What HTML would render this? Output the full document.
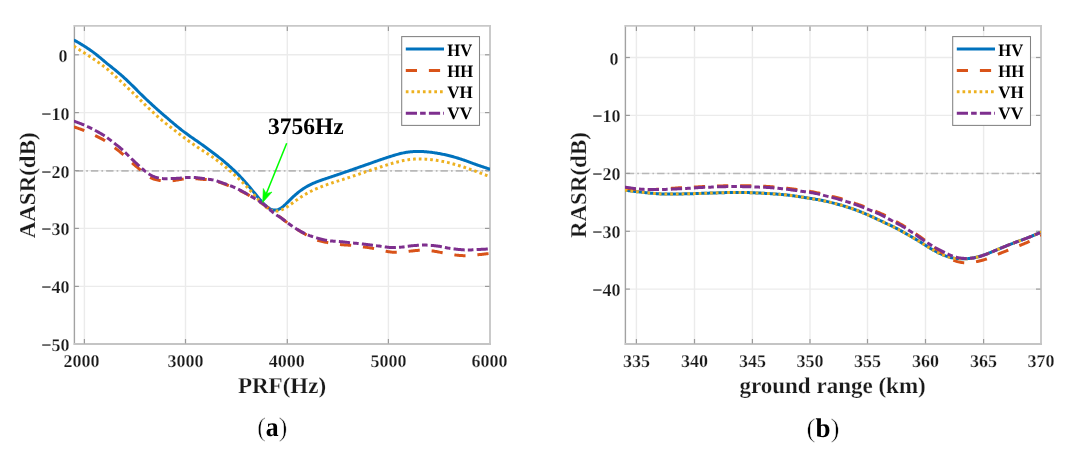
<!DOCTYPE html>
<html><head><meta charset="utf-8"><style>
html,body{margin:0;padding:0;background:#fff;}
body{width:1074px;height:455px;overflow:hidden;}
svg{display:block;will-change:transform;}
text{text-rendering:geometricPrecision;}
</style></head><body>
<svg width="1074" height="455" viewBox="0 0 1074 455">
<rect width="1074" height="455" fill="#fff"/>
<clipPath id="ca"><rect x="73.9" y="25.9" width="416.20000000000005" height="318.1"/></clipPath>
<line x1="84.4" y1="25.9" x2="84.4" y2="344.0" stroke="#ebebeb" stroke-width="1.4"/>
<line x1="185.5" y1="25.9" x2="185.5" y2="344.0" stroke="#ebebeb" stroke-width="1.4"/>
<line x1="287.3" y1="25.9" x2="287.3" y2="344.0" stroke="#ebebeb" stroke-width="1.4"/>
<line x1="388.4" y1="25.9" x2="388.4" y2="344.0" stroke="#ebebeb" stroke-width="1.4"/>
<line x1="74.4" y1="54.8" x2="490.0" y2="54.8" stroke="#ebebeb" stroke-width="1.4"/>
<line x1="74.4" y1="112.6" x2="490.0" y2="112.6" stroke="#ebebeb" stroke-width="1.4"/>
<line x1="74.4" y1="170.6" x2="490.0" y2="170.6" stroke="#ebebeb" stroke-width="1.4"/>
<line x1="74.4" y1="228.4" x2="490.0" y2="228.4" stroke="#ebebeb" stroke-width="1.4"/>
<line x1="74.4" y1="286.4" x2="490.0" y2="286.4" stroke="#ebebeb" stroke-width="1.4"/>
<line x1="75.7" y1="170.9" x2="490.0" y2="170.9" stroke="#b8b8b8" stroke-width="1.6" stroke-dasharray="7.4 3.1 1.7 3.0"/>
<line x1="74.4" y1="24.9" x2="74.4" y2="345.0" stroke="#a2a2a2" stroke-width="1.4"/>
<line x1="73.7" y1="25.9" x2="491.0" y2="25.9" stroke="#c8c8c8" stroke-width="1.9"/>
<line x1="490.0" y1="25.9" x2="490.0" y2="345.0" stroke="#c8c8c8" stroke-width="1.9"/>
<line x1="73.7" y1="344.0" x2="491.0" y2="344.0" stroke="#c4c4c4" stroke-width="1.9"/>
<line x1="84.4" y1="343.5" x2="84.4" y2="339.0" stroke="#9a9a9a" stroke-width="1.2"/>
<line x1="84.4" y1="26.4" x2="84.4" y2="30.9" stroke="#9a9a9a" stroke-width="1.2"/>
<line x1="185.5" y1="343.5" x2="185.5" y2="339.0" stroke="#9a9a9a" stroke-width="1.2"/>
<line x1="185.5" y1="26.4" x2="185.5" y2="30.9" stroke="#9a9a9a" stroke-width="1.2"/>
<line x1="287.3" y1="343.5" x2="287.3" y2="339.0" stroke="#9a9a9a" stroke-width="1.2"/>
<line x1="287.3" y1="26.4" x2="287.3" y2="30.9" stroke="#9a9a9a" stroke-width="1.2"/>
<line x1="388.4" y1="343.5" x2="388.4" y2="339.0" stroke="#9a9a9a" stroke-width="1.2"/>
<line x1="388.4" y1="26.4" x2="388.4" y2="30.9" stroke="#9a9a9a" stroke-width="1.2"/>
<line x1="74.4" y1="54.8" x2="78.9" y2="54.8" stroke="#9a9a9a" stroke-width="1.2"/>
<line x1="489.5" y1="54.8" x2="485.0" y2="54.8" stroke="#9a9a9a" stroke-width="1.2"/>
<line x1="74.4" y1="112.6" x2="78.9" y2="112.6" stroke="#9a9a9a" stroke-width="1.2"/>
<line x1="489.5" y1="112.6" x2="485.0" y2="112.6" stroke="#9a9a9a" stroke-width="1.2"/>
<line x1="74.4" y1="170.6" x2="78.9" y2="170.6" stroke="#9a9a9a" stroke-width="1.2"/>
<line x1="489.5" y1="170.6" x2="485.0" y2="170.6" stroke="#9a9a9a" stroke-width="1.2"/>
<line x1="74.4" y1="228.4" x2="78.9" y2="228.4" stroke="#9a9a9a" stroke-width="1.2"/>
<line x1="489.5" y1="228.4" x2="485.0" y2="228.4" stroke="#9a9a9a" stroke-width="1.2"/>
<line x1="74.4" y1="286.4" x2="78.9" y2="286.4" stroke="#9a9a9a" stroke-width="1.2"/>
<line x1="489.5" y1="286.4" x2="485.0" y2="286.4" stroke="#9a9a9a" stroke-width="1.2"/>
<path d="M73.80,39.95 L74.80,40.52 L75.80,41.09 L76.80,41.66 L77.80,42.23 L78.79,42.81 L79.79,43.40 L80.79,43.99 L81.79,44.59 L82.79,45.20 L83.79,45.81 L84.79,46.44 L85.79,47.08 L86.78,47.73 L87.78,48.39 L88.78,49.06 L89.78,49.74 L90.78,50.43 L91.78,51.13 L92.78,51.88 L93.78,52.64 L94.77,53.41 L95.77,54.19 L96.77,54.98 L97.77,55.77 L98.77,56.57 L99.77,57.38 L100.77,58.21 L101.77,59.06 L102.77,59.91 L103.76,60.75 L104.76,61.60 L105.76,62.44 L106.76,63.28 L107.76,64.09 L108.76,64.88 L109.76,65.67 L110.76,66.47 L111.75,67.26 L112.75,68.06 L113.75,68.87 L114.75,69.69 L115.75,70.51 L116.75,71.35 L117.75,72.20 L118.75,73.04 L119.74,73.87 L120.74,74.72 L121.74,75.59 L122.74,76.47 L123.74,77.37 L124.74,78.28 L125.74,79.20 L126.74,80.15 L127.74,81.10 L128.73,82.05 L129.73,83.01 L130.73,83.97 L131.73,84.95 L132.73,85.93 L133.73,86.92 L134.73,87.92 L135.73,88.93 L136.72,89.93 L137.72,90.94 L138.72,91.95 L139.72,92.95 L140.72,93.95 L141.72,94.93 L142.72,95.91 L143.72,96.88 L144.71,97.83 L145.71,98.78 L146.71,99.72 L147.71,100.65 L148.71,101.59 L149.71,102.52 L150.71,103.44 L151.71,104.36 L152.71,105.28 L153.70,106.20 L154.70,107.10 L155.70,108.00 L156.70,108.90 L157.70,109.78 L158.70,110.66 L159.70,111.54 L160.70,112.40 L161.69,113.28 L162.69,114.16 L163.69,115.03 L164.69,115.90 L165.69,116.76 L166.69,117.62 L167.69,118.48 L168.69,119.33 L169.68,120.18 L170.68,121.03 L171.68,121.88 L172.68,122.73 L173.68,123.57 L174.68,124.41 L175.68,125.25 L176.68,126.07 L177.68,126.90 L178.67,127.71 L179.67,128.51 L180.67,129.30 L181.67,130.08 L182.67,130.84 L183.67,131.60 L184.67,132.34 L185.67,133.08 L186.66,133.81 L187.66,134.53 L188.66,135.25 L189.66,135.96 L190.66,136.66 L191.66,137.36 L192.66,138.06 L193.66,138.76 L194.65,139.45 L195.65,140.15 L196.65,140.84 L197.65,141.54 L198.65,142.24 L199.65,142.94 L200.65,143.64 L201.65,144.35 L202.65,145.06 L203.64,145.78 L204.64,146.50 L205.64,147.23 L206.64,147.96 L207.64,148.70 L208.64,149.44 L209.64,150.19 L210.64,150.94 L211.63,151.70 L212.63,152.46 L213.63,153.22 L214.63,153.99 L215.63,154.76 L216.63,155.52 L217.63,156.29 L218.63,157.07 L219.62,157.85 L220.62,158.65 L221.62,159.45 L222.62,160.27 L223.62,161.09 L224.62,161.93 L225.62,162.78 L226.62,163.63 L227.62,164.50 L228.61,165.38 L229.61,166.27 L230.61,167.17 L231.61,168.08 L232.61,169.01 L233.61,169.95 L234.61,170.90 L235.61,171.87 L236.60,172.85 L237.60,173.85 L238.60,174.86 L239.60,175.89 L240.60,176.94 L241.60,178.00 L242.60,179.09 L243.60,180.18 L244.59,181.30 L245.59,182.43 L246.59,183.57 L247.59,184.72 L248.59,185.88 L249.59,187.05 L250.59,188.23 L251.59,189.42 L252.59,190.63 L253.58,191.85 L254.58,193.07 L255.58,194.30 L256.58,195.53 L257.58,196.74 L258.58,197.95 L259.58,199.13 L260.58,200.30 L261.57,201.43 L262.57,202.52 L263.57,203.57 L264.57,204.56 L265.57,205.50 L266.57,206.36 L267.57,207.16 L268.57,207.87 L269.56,208.50 L270.56,209.03 L271.56,209.46 L272.56,209.79 L273.56,210.01 L274.56,210.11 L275.56,210.10 L276.56,209.97 L277.56,209.72 L278.55,209.35 L279.55,208.88 L280.55,208.30 L281.55,207.63 L282.55,206.88 L283.55,206.05 L284.55,205.17 L285.55,204.25 L286.54,203.29 L287.54,202.31 L288.54,201.32 L289.54,200.33 L290.54,199.33 L291.54,198.35 L292.54,197.39 L293.54,196.45 L294.54,195.54 L295.53,194.66 L296.53,193.80 L297.53,192.98 L298.53,192.18 L299.53,191.41 L300.53,190.66 L301.53,189.94 L302.53,189.25 L303.52,188.58 L304.52,187.93 L305.52,187.32 L306.52,186.72 L307.52,186.15 L308.52,185.61 L309.52,185.09 L310.52,184.59 L311.51,184.11 L312.51,183.65 L313.51,183.20 L314.51,182.78 L315.51,182.37 L316.51,181.97 L317.51,181.58 L318.51,181.21 L319.51,180.84 L320.50,180.47 L321.50,180.11 L322.50,179.76 L323.50,179.40 L324.50,179.06 L325.50,178.72 L326.50,178.38 L327.50,178.05 L328.49,177.72 L329.49,177.39 L330.49,177.06 L331.49,176.72 L332.49,176.39 L333.49,176.06 L334.49,175.73 L335.49,175.39 L336.48,175.06 L337.48,174.72 L338.48,174.39 L339.48,174.05 L340.48,173.71 L341.48,173.37 L342.48,173.03 L343.48,172.68 L344.48,172.34 L345.47,172.00 L346.47,171.65 L347.47,171.30 L348.47,170.96 L349.47,170.61 L350.47,170.26 L351.47,169.91 L352.47,169.56 L353.46,169.21 L354.46,168.86 L355.46,168.51 L356.46,168.16 L357.46,167.81 L358.46,167.45 L359.46,167.10 L360.46,166.75 L361.45,166.41 L362.45,166.06 L363.45,165.71 L364.45,165.36 L365.45,165.02 L366.45,164.67 L367.45,164.33 L368.45,163.98 L369.45,163.64 L370.44,163.29 L371.44,162.93 L372.44,162.57 L373.44,162.21 L374.44,161.85 L375.44,161.50 L376.44,161.15 L377.44,160.80 L378.43,160.45 L379.43,160.11 L380.43,159.77 L381.43,159.43 L382.43,159.09 L383.43,158.76 L384.43,158.42 L385.43,158.09 L386.42,157.76 L387.42,157.43 L388.42,157.11 L389.42,156.78 L390.42,156.46 L391.42,156.15 L392.42,155.84 L393.42,155.54 L394.42,155.23 L395.41,154.93 L396.41,154.64 L397.41,154.36 L398.41,154.08 L399.41,153.82 L400.41,153.57 L401.41,153.33 L402.41,153.10 L403.40,152.89 L404.40,152.69 L405.40,152.51 L406.40,152.34 L407.40,152.18 L408.40,152.04 L409.40,151.91 L410.40,151.80 L411.39,151.71 L412.39,151.64 L413.39,151.57 L414.39,151.52 L415.39,151.48 L416.39,151.46 L417.39,151.44 L418.39,151.44 L419.39,151.45 L420.38,151.47 L421.38,151.50 L422.38,151.55 L423.38,151.60 L424.38,151.66 L425.38,151.74 L426.38,151.82 L427.38,151.91 L428.37,152.01 L429.37,152.12 L430.37,152.23 L431.37,152.36 L432.37,152.49 L433.37,152.62 L434.37,152.76 L435.37,152.91 L436.36,153.07 L437.36,153.23 L438.36,153.40 L439.36,153.58 L440.36,153.77 L441.36,153.96 L442.36,154.16 L443.36,154.36 L444.36,154.58 L445.35,154.80 L446.35,155.02 L447.35,155.26 L448.35,155.49 L449.35,155.74 L450.35,155.99 L451.35,156.25 L452.35,156.52 L453.34,156.79 L454.34,157.07 L455.34,157.36 L456.34,157.66 L457.34,157.96 L458.34,158.27 L459.34,158.58 L460.34,158.90 L461.33,159.23 L462.33,159.56 L463.33,159.90 L464.33,160.25 L465.33,160.60 L466.33,160.95 L467.33,161.31 L468.33,161.68 L469.33,162.05 L470.32,162.42 L471.32,162.79 L472.32,163.17 L473.32,163.54 L474.32,163.90 L475.32,164.27 L476.32,164.62 L477.32,164.98 L478.31,165.33 L479.31,165.68 L480.31,166.02 L481.31,166.37 L482.31,166.70 L483.31,167.04 L484.31,167.37 L485.31,167.69 L486.30,168.02 L487.30,168.34 L488.30,168.66 L489.30,168.98 L490.30,169.31" fill="none" stroke="#0072BD" stroke-width="3.0" clip-path="url(#ca)"/>
<path d="M73.80,126.82 L74.80,127.16 L75.80,127.51 L76.80,127.85 L77.80,128.20 L78.79,128.55 L79.79,128.90 L80.79,129.26 L81.79,129.63 L82.79,130.01 L83.79,130.40 L84.79,130.80 L85.79,131.22 L86.78,131.64 L87.78,132.08 L88.78,132.52 L89.78,132.98 L90.78,133.44 L91.78,133.90 L92.78,134.38 L93.78,134.85 L94.77,135.33 L95.77,135.82 L96.77,136.30 L97.77,136.79 L98.77,137.29 L99.77,137.79 L100.77,138.31 L101.77,138.85 L102.77,139.41 L103.76,139.99 L104.76,140.59 L105.76,141.22 L106.76,141.88 L107.76,142.57 L108.76,143.28 L109.76,144.00 L110.76,144.75 L111.75,145.50 L112.75,146.26 L113.75,147.03 L114.75,147.80 L115.75,148.57 L116.75,149.34 L117.75,150.11 L118.75,150.90 L119.74,151.69 L120.74,152.49 L121.74,153.32 L122.74,154.16 L123.74,155.03 L124.74,155.93 L125.74,156.85 L126.74,157.78 L127.74,158.73 L128.73,159.68 L129.73,160.63 L130.73,161.58 L131.73,162.51 L132.73,163.42 L133.73,164.31 L134.73,165.18 L135.73,166.04 L136.72,166.88 L137.72,167.72 L138.72,168.55 L139.72,169.38 L140.72,170.22 L141.72,171.06 L142.72,171.90 L143.72,172.73 L144.71,173.55 L145.71,174.34 L146.71,175.10 L147.71,175.83 L148.71,176.50 L149.71,177.13 L150.71,177.70 L151.71,178.20 L152.71,178.64 L153.70,179.02 L154.70,179.36 L155.70,179.64 L156.70,179.89 L157.70,180.10 L158.70,180.27 L159.70,180.42 L160.70,180.55 L161.69,180.65 L162.69,180.74 L163.69,180.82 L164.69,180.87 L165.69,180.91 L166.69,180.92 L167.69,180.92 L168.69,180.90 L169.68,180.87 L170.68,180.81 L171.68,180.74 L172.68,180.64 L173.68,180.53 L174.68,180.40 L175.68,180.26 L176.68,180.11 L177.68,179.94 L178.67,179.78 L179.67,179.61 L180.67,179.44 L181.67,179.27 L182.67,179.11 L183.67,178.96 L184.67,178.82 L185.67,178.70 L186.66,178.60 L187.66,178.51 L188.66,178.44 L189.66,178.40 L190.66,178.39 L191.66,178.40 L192.66,178.44 L193.66,178.50 L194.65,178.58 L195.65,178.66 L196.65,178.76 L197.65,178.86 L198.65,178.96 L199.65,179.06 L200.65,179.15 L201.65,179.23 L202.65,179.31 L203.64,179.38 L204.64,179.45 L205.64,179.53 L206.64,179.60 L207.64,179.69 L208.64,179.79 L209.64,179.90 L210.64,180.03 L211.63,180.18 L212.63,180.36 L213.63,180.58 L214.63,180.82 L215.63,181.09 L216.63,181.38 L217.63,181.69 L218.63,182.01 L219.62,182.35 L220.62,182.69 L221.62,183.04 L222.62,183.39 L223.62,183.74 L224.62,184.11 L225.62,184.47 L226.62,184.85 L227.62,185.23 L228.61,185.61 L229.61,186.01 L230.61,186.41 L231.61,186.81 L232.61,187.23 L233.61,187.65 L234.61,188.08 L235.61,188.52 L236.60,188.97 L237.60,189.43 L238.60,189.90 L239.60,190.38 L240.60,190.87 L241.60,191.37 L242.60,191.87 L243.60,192.39 L244.59,192.91 L245.59,193.45 L246.59,193.99 L247.59,194.54 L248.59,195.09 L249.59,195.66 L250.59,196.23 L251.59,196.81 L252.59,197.40 L253.58,198.00 L254.58,198.60 L255.58,199.21 L256.58,199.84 L257.58,200.47 L258.58,201.11 L259.58,201.75 L260.58,202.41 L261.57,203.08 L262.57,203.77 L263.57,204.47 L264.57,205.19 L265.57,205.92 L266.57,206.69 L267.57,207.46 L268.57,208.25 L269.56,209.05 L270.56,209.84 L271.56,210.62 L272.56,211.40 L273.56,212.16 L274.56,212.91 L275.56,213.66 L276.56,214.40 L277.56,215.15 L278.55,215.90 L279.55,216.65 L280.55,217.41 L281.55,218.19 L282.55,218.98 L283.55,219.78 L284.55,220.60 L285.55,221.41 L286.54,222.20 L287.54,222.97 L288.54,223.72 L289.54,224.44 L290.54,225.15 L291.54,225.84 L292.54,226.51 L293.54,227.17 L294.54,227.82 L295.53,228.46 L296.53,229.09 L297.53,229.71 L298.53,230.31 L299.53,230.91 L300.53,231.51 L301.53,232.09 L302.53,232.67 L303.52,233.25 L304.52,233.82 L305.52,234.39 L306.52,234.96 L307.52,235.52 L308.52,236.08 L309.52,236.62 L310.52,237.15 L311.51,237.66 L312.51,238.16 L313.51,238.63 L314.51,239.08 L315.51,239.50 L316.51,239.89 L317.51,240.25 L318.51,240.57 L319.51,240.87 L320.50,241.13 L321.50,241.38 L322.50,241.60 L323.50,241.81 L324.50,242.00 L325.50,242.18 L326.50,242.36 L327.50,242.54 L328.49,242.71 L329.49,242.89 L330.49,243.07 L331.49,243.24 L332.49,243.41 L333.49,243.58 L334.49,243.74 L335.49,243.90 L336.48,244.05 L337.48,244.19 L338.48,244.32 L339.48,244.44 L340.48,244.56 L341.48,244.66 L342.48,244.75 L343.48,244.83 L344.48,244.90 L345.47,244.96 L346.47,245.02 L347.47,245.08 L348.47,245.13 L349.47,245.20 L350.47,245.27 L351.47,245.35 L352.47,245.45 L353.46,245.57 L354.46,245.69 L355.46,245.82 L356.46,245.96 L357.46,246.11 L358.46,246.26 L359.46,246.41 L360.46,246.56 L361.45,246.70 L362.45,246.84 L363.45,246.98 L364.45,247.11 L365.45,247.24 L366.45,247.37 L367.45,247.50 L368.45,247.63 L369.45,247.77 L370.44,247.91 L371.44,248.07 L372.44,248.23 L373.44,248.41 L374.44,248.61 L375.44,248.82 L376.44,249.04 L377.44,249.27 L378.43,249.51 L379.43,249.75 L380.43,249.99 L381.43,250.23 L382.43,250.47 L383.43,250.70 L384.43,250.92 L385.43,251.13 L386.42,251.32 L387.42,251.50 L388.42,251.67 L389.42,251.81 L390.42,251.94 L391.42,252.06 L392.42,252.15 L393.42,252.23 L394.42,252.29 L395.41,252.32 L396.41,252.34 L397.41,252.33 L398.41,252.31 L399.41,252.27 L400.41,252.21 L401.41,252.14 L402.41,252.06 L403.40,251.97 L404.40,251.86 L405.40,251.75 L406.40,251.63 L407.40,251.51 L408.40,251.39 L409.40,251.26 L410.40,251.13 L411.39,251.01 L412.39,250.89 L413.39,250.77 L414.39,250.66 L415.39,250.56 L416.39,250.47 L417.39,250.39 L418.39,250.32 L419.39,250.27 L420.38,250.24 L421.38,250.21 L422.38,250.20 L423.38,250.21 L424.38,250.23 L425.38,250.26 L426.38,250.31 L427.38,250.38 L428.37,250.46 L429.37,250.55 L430.37,250.66 L431.37,250.78 L432.37,250.91 L433.37,251.06 L434.37,251.22 L435.37,251.40 L436.36,251.57 L437.36,251.76 L438.36,251.95 L439.36,252.15 L440.36,252.35 L441.36,252.55 L442.36,252.75 L443.36,252.95 L444.36,253.15 L445.35,253.34 L446.35,253.54 L447.35,253.73 L448.35,253.91 L449.35,254.09 L450.35,254.26 L451.35,254.42 L452.35,254.58 L453.34,254.73 L454.34,254.87 L455.34,255.00 L456.34,255.12 L457.34,255.23 L458.34,255.33 L459.34,255.42 L460.34,255.49 L461.33,255.55 L462.33,255.60 L463.33,255.63 L464.33,255.64 L465.33,255.64 L466.33,255.63 L467.33,255.60 L468.33,255.56 L469.33,255.51 L470.32,255.44 L471.32,255.37 L472.32,255.29 L473.32,255.20 L474.32,255.11 L475.32,255.01 L476.32,254.91 L477.32,254.81 L478.31,254.71 L479.31,254.60 L480.31,254.49 L481.31,254.39 L482.31,254.28 L483.31,254.17 L484.31,254.06 L485.31,253.96 L486.30,253.85 L487.30,253.74 L488.30,253.63 L489.30,253.52 L490.30,253.41" fill="none" stroke="#D95319" stroke-width="3.0" stroke-dasharray="11.2 11.9" clip-path="url(#ca)"/>
<path d="M73.80,46.12 L74.80,46.77 L75.80,47.42 L76.80,48.06 L77.80,48.71 L78.79,49.36 L79.79,50.00 L80.79,50.65 L81.79,51.29 L82.79,51.93 L83.79,52.57 L84.79,53.22 L85.79,53.86 L86.78,54.51 L87.78,55.16 L88.78,55.82 L89.78,56.48 L90.78,57.14 L91.78,57.81 L92.78,58.49 L93.78,59.17 L94.77,59.85 L95.77,60.54 L96.77,61.23 L97.77,61.93 L98.77,62.64 L99.77,63.35 L100.77,64.08 L101.77,64.81 L102.77,65.56 L103.76,66.32 L104.76,67.09 L105.76,67.88 L106.76,68.68 L107.76,69.51 L108.76,70.36 L109.76,71.22 L110.76,72.11 L111.75,73.00 L112.75,73.90 L113.75,74.81 L114.75,75.73 L115.75,76.64 L116.75,77.56 L117.75,78.49 L118.75,79.41 L119.74,80.34 L120.74,81.27 L121.74,82.20 L122.74,83.14 L123.74,84.08 L124.74,85.02 L125.74,85.96 L126.74,86.91 L127.74,87.85 L128.73,88.80 L129.73,89.76 L130.73,90.71 L131.73,91.66 L132.73,92.62 L133.73,93.58 L134.73,94.54 L135.73,95.50 L136.72,96.47 L137.72,97.45 L138.72,98.43 L139.72,99.42 L140.72,100.41 L141.72,101.40 L142.72,102.40 L143.72,103.39 L144.71,104.37 L145.71,105.35 L146.71,106.33 L147.71,107.29 L148.71,108.25 L149.71,109.20 L150.71,110.15 L151.71,111.08 L152.71,112.02 L153.70,112.94 L154.70,113.86 L155.70,114.76 L156.70,115.66 L157.70,116.56 L158.70,117.44 L159.70,118.31 L160.70,119.17 L161.69,120.02 L162.69,120.85 L163.69,121.68 L164.69,122.49 L165.69,123.30 L166.69,124.09 L167.69,124.88 L168.69,125.66 L169.68,126.43 L170.68,127.21 L171.68,127.98 L172.68,128.76 L173.68,129.53 L174.68,130.31 L175.68,131.09 L176.68,131.88 L177.68,132.66 L178.67,133.44 L179.67,134.22 L180.67,135.00 L181.67,135.77 L182.67,136.54 L183.67,137.30 L184.67,138.05 L185.67,138.80 L186.66,139.54 L187.66,140.28 L188.66,141.00 L189.66,141.72 L190.66,142.44 L191.66,143.14 L192.66,143.84 L193.66,144.54 L194.65,145.23 L195.65,145.91 L196.65,146.59 L197.65,147.26 L198.65,147.92 L199.65,148.59 L200.65,149.25 L201.65,149.91 L202.65,150.56 L203.64,151.22 L204.64,151.86 L205.64,152.51 L206.64,153.15 L207.64,153.80 L208.64,154.45 L209.64,155.11 L210.64,155.78 L211.63,156.45 L212.63,157.13 L213.63,157.83 L214.63,158.55 L215.63,159.28 L216.63,160.02 L217.63,160.78 L218.63,161.55 L219.62,162.33 L220.62,163.11 L221.62,163.90 L222.62,164.71 L223.62,165.52 L224.62,166.33 L225.62,167.16 L226.62,167.99 L227.62,168.83 L228.61,169.68 L229.61,170.54 L230.61,171.41 L231.61,172.28 L232.61,173.16 L233.61,174.04 L234.61,174.93 L235.61,175.83 L236.60,176.75 L237.60,177.68 L238.60,178.62 L239.60,179.57 L240.60,180.53 L241.60,181.50 L242.60,182.48 L243.60,183.48 L244.59,184.49 L245.59,185.52 L246.59,186.56 L247.59,187.61 L248.59,188.68 L249.59,189.77 L250.59,190.87 L251.59,191.99 L252.59,193.11 L253.58,194.24 L254.58,195.37 L255.58,196.51 L256.58,197.65 L257.58,198.78 L258.58,199.90 L259.58,201.00 L260.58,202.06 L261.57,203.08 L262.57,204.07 L263.57,205.02 L264.57,205.92 L265.57,206.77 L266.57,207.56 L267.57,208.28 L268.57,208.92 L269.56,209.49 L270.56,209.97 L271.56,210.37 L272.56,210.68 L273.56,210.91 L274.56,211.05 L275.56,211.10 L276.56,211.07 L277.56,210.97 L278.55,210.79 L279.55,210.54 L280.55,210.22 L281.55,209.84 L282.55,209.41 L283.55,208.93 L284.55,208.40 L285.55,207.83 L286.54,207.22 L287.54,206.58 L288.54,205.92 L289.54,205.23 L290.54,204.51 L291.54,203.79 L292.54,203.05 L293.54,202.30 L294.54,201.56 L295.53,200.84 L296.53,200.12 L297.53,199.41 L298.53,198.70 L299.53,198.02 L300.53,197.34 L301.53,196.69 L302.53,196.04 L303.52,195.42 L304.52,194.81 L305.52,194.22 L306.52,193.65 L307.52,193.09 L308.52,192.54 L309.52,192.02 L310.52,191.50 L311.51,191.00 L312.51,190.51 L313.51,190.04 L314.51,189.58 L315.51,189.13 L316.51,188.69 L317.51,188.26 L318.51,187.84 L319.51,187.44 L320.50,187.04 L321.50,186.65 L322.50,186.27 L323.50,185.90 L324.50,185.53 L325.50,185.16 L326.50,184.81 L327.50,184.45 L328.49,184.10 L329.49,183.76 L330.49,183.42 L331.49,183.08 L332.49,182.75 L333.49,182.43 L334.49,182.10 L335.49,181.78 L336.48,181.46 L337.48,181.14 L338.48,180.83 L339.48,180.51 L340.48,180.20 L341.48,179.88 L342.48,179.57 L343.48,179.25 L344.48,178.94 L345.47,178.62 L346.47,178.30 L347.47,177.98 L348.47,177.65 L349.47,177.33 L350.47,177.00 L351.47,176.67 L352.47,176.34 L353.46,176.00 L354.46,175.66 L355.46,175.32 L356.46,174.98 L357.46,174.64 L358.46,174.30 L359.46,173.96 L360.46,173.62 L361.45,173.28 L362.45,172.95 L363.45,172.61 L364.45,172.28 L365.45,171.94 L366.45,171.61 L367.45,171.28 L368.45,170.94 L369.45,170.61 L370.44,170.28 L371.44,169.95 L372.44,169.63 L373.44,169.30 L374.44,168.97 L375.44,168.65 L376.44,168.33 L377.44,168.00 L378.43,167.68 L379.43,167.36 L380.43,167.03 L381.43,166.71 L382.43,166.39 L383.43,166.07 L384.43,165.75 L385.43,165.43 L386.42,165.11 L387.42,164.80 L388.42,164.49 L389.42,164.19 L390.42,163.89 L391.42,163.59 L392.42,163.30 L393.42,163.01 L394.42,162.73 L395.41,162.46 L396.41,162.19 L397.41,161.93 L398.41,161.68 L399.41,161.44 L400.41,161.21 L401.41,160.99 L402.41,160.78 L403.40,160.57 L404.40,160.38 L405.40,160.20 L406.40,160.04 L407.40,159.88 L408.40,159.73 L409.40,159.60 L410.40,159.48 L411.39,159.37 L412.39,159.27 L413.39,159.19 L414.39,159.12 L415.39,159.06 L416.39,159.01 L417.39,158.98 L418.39,158.95 L419.39,158.95 L420.38,158.95 L421.38,158.97 L422.38,159.00 L423.38,159.04 L424.38,159.09 L425.38,159.15 L426.38,159.22 L427.38,159.30 L428.37,159.39 L429.37,159.49 L430.37,159.59 L431.37,159.70 L432.37,159.81 L433.37,159.93 L434.37,160.06 L435.37,160.19 L436.36,160.34 L437.36,160.48 L438.36,160.64 L439.36,160.81 L440.36,160.98 L441.36,161.16 L442.36,161.35 L443.36,161.54 L444.36,161.75 L445.35,161.96 L446.35,162.18 L447.35,162.41 L448.35,162.65 L449.35,162.90 L450.35,163.15 L451.35,163.41 L452.35,163.68 L453.34,163.95 L454.34,164.23 L455.34,164.51 L456.34,164.80 L457.34,165.09 L458.34,165.39 L459.34,165.69 L460.34,166.00 L461.33,166.31 L462.33,166.63 L463.33,166.95 L464.33,167.28 L465.33,167.61 L466.33,167.95 L467.33,168.29 L468.33,168.63 L469.33,168.98 L470.32,169.33 L471.32,169.68 L472.32,170.04 L473.32,170.40 L474.32,170.76 L475.32,171.13 L476.32,171.49 L477.32,171.86 L478.31,172.24 L479.31,172.61 L480.31,172.98 L481.31,173.36 L482.31,173.74 L483.31,174.13 L484.31,174.51 L485.31,174.90 L486.30,175.29 L487.30,175.68 L488.30,176.07 L489.30,176.47 L490.30,176.86" fill="none" stroke="#EDB120" stroke-width="3.0" stroke-dasharray="2.7 3.0" clip-path="url(#ca)"/>
<path d="M73.80,121.10 L74.80,121.46 L75.80,121.83 L76.80,122.19 L77.80,122.56 L78.79,122.93 L79.79,123.31 L80.79,123.70 L81.79,124.10 L82.79,124.51 L83.79,124.93 L84.79,125.37 L85.79,125.82 L86.78,126.28 L87.78,126.74 L88.78,127.20 L89.78,127.66 L90.78,128.14 L91.78,128.62 L92.78,129.13 L93.78,129.65 L94.77,130.19 L95.77,130.74 L96.77,131.28 L97.77,131.82 L98.77,132.38 L99.77,132.94 L100.77,133.51 L101.77,134.10 L102.77,134.71 L103.76,135.35 L104.76,136.01 L105.76,136.70 L106.76,137.42 L107.76,138.15 L108.76,138.90 L109.76,139.65 L110.76,140.41 L111.75,141.18 L112.75,141.96 L113.75,142.75 L114.75,143.53 L115.75,144.31 L116.75,145.08 L117.75,145.87 L118.75,146.66 L119.74,147.48 L120.74,148.32 L121.74,149.19 L122.74,150.10 L123.74,151.05 L124.74,152.03 L125.74,153.03 L126.74,154.02 L127.74,155.01 L128.73,156.00 L129.73,157.00 L130.73,157.99 L131.73,158.97 L132.73,159.94 L133.73,160.89 L134.73,161.83 L135.73,162.76 L136.72,163.69 L137.72,164.61 L138.72,165.52 L139.72,166.43 L140.72,167.33 L141.72,168.23 L142.72,169.12 L143.72,169.99 L144.71,170.83 L145.71,171.64 L146.71,172.41 L147.71,173.14 L148.71,173.82 L149.71,174.46 L150.71,175.04 L151.71,175.57 L152.71,176.05 L153.70,176.49 L154.70,176.88 L155.70,177.23 L156.70,177.54 L157.70,177.81 L158.70,178.03 L159.70,178.22 L160.70,178.38 L161.69,178.49 L162.69,178.58 L163.69,178.64 L164.69,178.67 L165.69,178.69 L166.69,178.69 L167.69,178.67 L168.69,178.65 L169.68,178.62 L170.68,178.59 L171.68,178.55 L172.68,178.52 L173.68,178.47 L174.68,178.43 L175.68,178.38 L176.68,178.32 L177.68,178.26 L178.67,178.20 L179.67,178.13 L180.67,178.04 L181.67,177.96 L182.67,177.86 L183.67,177.76 L184.67,177.66 L185.67,177.58 L186.66,177.51 L187.66,177.45 L188.66,177.41 L189.66,177.39 L190.66,177.38 L191.66,177.39 L192.66,177.41 L193.66,177.46 L194.65,177.52 L195.65,177.59 L196.65,177.69 L197.65,177.79 L198.65,177.91 L199.65,178.04 L200.65,178.17 L201.65,178.31 L202.65,178.45 L203.64,178.60 L204.64,178.74 L205.64,178.88 L206.64,179.02 L207.64,179.15 L208.64,179.27 L209.64,179.40 L210.64,179.53 L211.63,179.68 L212.63,179.86 L213.63,180.07 L214.63,180.32 L215.63,180.60 L216.63,180.90 L217.63,181.23 L218.63,181.56 L219.62,181.90 L220.62,182.25 L221.62,182.60 L222.62,182.95 L223.62,183.30 L224.62,183.66 L225.62,184.02 L226.62,184.38 L227.62,184.75 L228.61,185.12 L229.61,185.50 L230.61,185.88 L231.61,186.26 L232.61,186.66 L233.61,187.07 L234.61,187.50 L235.61,187.95 L236.60,188.41 L237.60,188.90 L238.60,189.39 L239.60,189.90 L240.60,190.41 L241.60,190.93 L242.60,191.47 L243.60,192.01 L244.59,192.56 L245.59,193.12 L246.59,193.69 L247.59,194.26 L248.59,194.84 L249.59,195.43 L250.59,196.02 L251.59,196.60 L252.59,197.19 L253.58,197.77 L254.58,198.36 L255.58,198.97 L256.58,199.58 L257.58,200.22 L258.58,200.86 L259.58,201.53 L260.58,202.21 L261.57,202.91 L262.57,203.63 L263.57,204.38 L264.57,205.16 L265.57,205.98 L266.57,206.83 L267.57,207.71 L268.57,208.59 L269.56,209.48 L270.56,210.36 L271.56,211.21 L272.56,212.03 L273.56,212.83 L274.56,213.59 L275.56,214.32 L276.56,215.01 L277.56,215.66 L278.55,216.30 L279.55,216.95 L280.55,217.61 L281.55,218.30 L282.55,219.00 L283.55,219.74 L284.55,220.51 L285.55,221.29 L286.54,222.06 L287.54,222.82 L288.54,223.55 L289.54,224.27 L290.54,224.97 L291.54,225.66 L292.54,226.33 L293.54,227.00 L294.54,227.65 L295.53,228.30 L296.53,228.92 L297.53,229.54 L298.53,230.14 L299.53,230.73 L300.53,231.30 L301.53,231.85 L302.53,232.38 L303.52,232.89 L304.52,233.38 L305.52,233.85 L306.52,234.30 L307.52,234.73 L308.52,235.14 L309.52,235.54 L310.52,235.91 L311.51,236.26 L312.51,236.60 L313.51,236.93 L314.51,237.25 L315.51,237.56 L316.51,237.86 L317.51,238.16 L318.51,238.44 L319.51,238.72 L320.50,238.99 L321.50,239.24 L322.50,239.49 L323.50,239.72 L324.50,239.94 L325.50,240.14 L326.50,240.34 L327.50,240.51 L328.49,240.68 L329.49,240.82 L330.49,240.93 L331.49,241.03 L332.49,241.11 L333.49,241.18 L334.49,241.25 L335.49,241.31 L336.48,241.38 L337.48,241.45 L338.48,241.53 L339.48,241.61 L340.48,241.69 L341.48,241.77 L342.48,241.86 L343.48,241.96 L344.48,242.05 L345.47,242.16 L346.47,242.27 L347.47,242.38 L348.47,242.50 L349.47,242.63 L350.47,242.76 L351.47,242.88 L352.47,243.00 L353.46,243.10 L354.46,243.19 L355.46,243.28 L356.46,243.36 L357.46,243.45 L358.46,243.54 L359.46,243.64 L360.46,243.75 L361.45,243.86 L362.45,243.97 L363.45,244.08 L364.45,244.19 L365.45,244.31 L366.45,244.43 L367.45,244.55 L368.45,244.68 L369.45,244.80 L370.44,244.94 L371.44,245.07 L372.44,245.21 L373.44,245.36 L374.44,245.49 L375.44,245.63 L376.44,245.75 L377.44,245.87 L378.43,245.99 L379.43,246.11 L380.43,246.24 L381.43,246.38 L382.43,246.53 L383.43,246.69 L384.43,246.83 L385.43,246.97 L386.42,247.10 L387.42,247.21 L388.42,247.31 L389.42,247.39 L390.42,247.46 L391.42,247.51 L392.42,247.55 L393.42,247.56 L394.42,247.56 L395.41,247.53 L396.41,247.49 L397.41,247.44 L398.41,247.37 L399.41,247.30 L400.41,247.22 L401.41,247.13 L402.41,247.02 L403.40,246.90 L404.40,246.76 L405.40,246.61 L406.40,246.46 L407.40,246.31 L408.40,246.18 L409.40,246.05 L410.40,245.93 L411.39,245.82 L412.39,245.72 L413.39,245.63 L414.39,245.54 L415.39,245.46 L416.39,245.39 L417.39,245.31 L418.39,245.25 L419.39,245.19 L420.38,245.13 L421.38,245.09 L422.38,245.06 L423.38,245.05 L424.38,245.05 L425.38,245.07 L426.38,245.10 L427.38,245.14 L428.37,245.20 L429.37,245.26 L430.37,245.33 L431.37,245.40 L432.37,245.48 L433.37,245.57 L434.37,245.67 L435.37,245.78 L436.36,245.90 L437.36,246.04 L438.36,246.18 L439.36,246.35 L440.36,246.53 L441.36,246.72 L442.36,246.93 L443.36,247.14 L444.36,247.35 L445.35,247.55 L446.35,247.75 L447.35,247.93 L448.35,248.11 L449.35,248.27 L450.35,248.42 L451.35,248.56 L452.35,248.70 L453.34,248.83 L454.34,248.96 L455.34,249.09 L456.34,249.20 L457.34,249.32 L458.34,249.42 L459.34,249.52 L460.34,249.61 L461.33,249.69 L462.33,249.77 L463.33,249.83 L464.33,249.88 L465.33,249.92 L466.33,249.95 L467.33,249.97 L468.33,249.97 L469.33,249.96 L470.32,249.93 L471.32,249.89 L472.32,249.85 L473.32,249.79 L474.32,249.73 L475.32,249.66 L476.32,249.61 L477.32,249.55 L478.31,249.50 L479.31,249.45 L480.31,249.41 L481.31,249.36 L482.31,249.32 L483.31,249.27 L484.31,249.22 L485.31,249.17 L486.30,249.12 L487.30,249.06 L488.30,249.00 L489.30,248.94 L490.30,248.88" fill="none" stroke="#7E2F8E" stroke-width="3.0" stroke-dasharray="11.2 3.1 5.6 3.2" clip-path="url(#ca)"/>
<text x="81.4" y="367.3" text-anchor="middle" font-size="18" fill="#1a1a1a" font-family="'Liberation Serif', serif" font-weight="bold" stroke="#fff" stroke-width="0.22">2000</text>
<text x="185.5" y="367.3" text-anchor="middle" font-size="18" fill="#1a1a1a" font-family="'Liberation Serif', serif" font-weight="bold" stroke="#fff" stroke-width="0.22">3000</text>
<text x="286.8" y="367.3" text-anchor="middle" font-size="18" fill="#1a1a1a" font-family="'Liberation Serif', serif" font-weight="bold" stroke="#fff" stroke-width="0.22">4000</text>
<text x="388.4" y="367.3" text-anchor="middle" font-size="18" fill="#1a1a1a" font-family="'Liberation Serif', serif" font-weight="bold" stroke="#fff" stroke-width="0.22">5000</text>
<text x="489.5" y="367.3" text-anchor="middle" font-size="18" fill="#1a1a1a" font-family="'Liberation Serif', serif" font-weight="bold" stroke="#fff" stroke-width="0.22">6000</text>
<text x="67.6" y="61.699999999999996" text-anchor="end" font-size="18" fill="#1a1a1a" font-family="'Liberation Serif', serif" font-weight="bold" stroke="#fff" stroke-width="0.22">0</text>
<text x="69.5" y="119.5" text-anchor="end" font-size="18" fill="#1a1a1a" font-family="'Liberation Serif', serif" font-weight="bold" stroke="#fff" stroke-width="0.22"><tspan stroke="none">&#8722;</tspan>10</text>
<text x="69.5" y="177.5" text-anchor="end" font-size="18" fill="#1a1a1a" font-family="'Liberation Serif', serif" font-weight="bold" stroke="#fff" stroke-width="0.22"><tspan stroke="none">&#8722;</tspan>20</text>
<text x="69.5" y="235.3" text-anchor="end" font-size="18" fill="#1a1a1a" font-family="'Liberation Serif', serif" font-weight="bold" stroke="#fff" stroke-width="0.22"><tspan stroke="none">&#8722;</tspan>30</text>
<text x="69.5" y="293.29999999999995" text-anchor="end" font-size="18" fill="#1a1a1a" font-family="'Liberation Serif', serif" font-weight="bold" stroke="#fff" stroke-width="0.22"><tspan stroke="none">&#8722;</tspan>40</text>
<text x="69.5" y="350.9" text-anchor="end" font-size="18" fill="#1a1a1a" font-family="'Liberation Serif', serif" font-weight="bold" stroke="#fff" stroke-width="0.22"><tspan stroke="none">&#8722;</tspan>50</text>
<text transform="translate(282,392.8) scale(1.015,1)" text-anchor="middle" font-size="22.7" fill="#1a1a1a" font-family="'Liberation Serif', serif" font-weight="bold" stroke="#fff" stroke-width="0.22">PRF(Hz)</text>
<text transform="translate(35.4,185.35) rotate(-90) scale(1.012,1)" x="0" y="0" text-anchor="middle" font-size="22.7" fill="#1a1a1a" font-family="'Liberation Serif', serif" font-weight="bold" stroke="#fff" stroke-width="0.22">AASR(dB)</text>
<rect x="401.7" y="36.6" width="77.80000000000001" height="88.80000000000001" fill="#fff" stroke="#828282" stroke-width="1.05"/>
<line x1="405.8" y1="49.0" x2="444" y2="49.0" stroke="#0072BD" stroke-width="3.0"/>
<text transform="translate(447.3,55.9) scale(0.95,1)" font-size="17.5" fill="#000" font-family="'Liberation Serif', serif" font-weight="bold">HV</text>
<line x1="405.8" y1="70.4" x2="444" y2="70.4" stroke="#D95319" stroke-width="3.0" stroke-dasharray="11.2 11.9"/>
<text transform="translate(447.3,77.0) scale(0.95,1)" font-size="17.5" fill="#000" font-family="'Liberation Serif', serif" font-weight="bold">HH</text>
<line x1="405.8" y1="91.8" x2="444" y2="91.8" stroke="#EDB120" stroke-width="3.0" stroke-dasharray="2.7 3.0"/>
<text transform="translate(447.3,98.2) scale(0.975,1)" font-size="17.5" fill="#000" font-family="'Liberation Serif', serif" font-weight="bold">VH</text>
<line x1="405.8" y1="113.3" x2="444" y2="113.3" stroke="#7E2F8E" stroke-width="3.0" stroke-dasharray="11.2 3.1 5.6 3.2"/>
<text transform="translate(447.3,119.4) scale(0.99,1)" font-size="17.5" fill="#000" font-family="'Liberation Serif', serif" font-weight="bold">VV</text>
<text x="268" y="133.8" font-size="23.5" fill="#000" font-family="'Liberation Serif', serif" font-weight="bold">3756Hz</text>
<line x1="286.7" y1="143.3" x2="266.27" y2="193.69" stroke="#00ff00" stroke-width="1.55"/>
<path d="M262.7,202.5 L263.30,188.50 L266.27,193.69 L272.01,192.03 Z" fill="#00ff00" stroke="#00ff00" stroke-width="0.6" stroke-linejoin="miter"/>
<clipPath id="cb"><rect x="624.9" y="25.9" width="416.20000000000005" height="318.1"/></clipPath>
<line x1="636.4" y1="25.9" x2="636.4" y2="344.0" stroke="#ebebeb" stroke-width="1.4"/>
<line x1="694.5" y1="25.9" x2="694.5" y2="344.0" stroke="#ebebeb" stroke-width="1.4"/>
<line x1="752.4" y1="25.9" x2="752.4" y2="344.0" stroke="#ebebeb" stroke-width="1.4"/>
<line x1="810.0" y1="25.9" x2="810.0" y2="344.0" stroke="#ebebeb" stroke-width="1.4"/>
<line x1="867.5" y1="25.9" x2="867.5" y2="344.0" stroke="#ebebeb" stroke-width="1.4"/>
<line x1="925.5" y1="25.9" x2="925.5" y2="344.0" stroke="#ebebeb" stroke-width="1.4"/>
<line x1="983.6" y1="25.9" x2="983.6" y2="344.0" stroke="#ebebeb" stroke-width="1.4"/>
<line x1="625.4" y1="57.5" x2="1041.0" y2="57.5" stroke="#ebebeb" stroke-width="1.4"/>
<line x1="625.4" y1="115.4" x2="1041.0" y2="115.4" stroke="#ebebeb" stroke-width="1.4"/>
<line x1="625.4" y1="173.4" x2="1041.0" y2="173.4" stroke="#ebebeb" stroke-width="1.4"/>
<line x1="625.4" y1="231.3" x2="1041.0" y2="231.3" stroke="#ebebeb" stroke-width="1.4"/>
<line x1="625.4" y1="289.1" x2="1041.0" y2="289.1" stroke="#ebebeb" stroke-width="1.4"/>
<line x1="626.6999999999999" y1="173.5" x2="1041.0" y2="173.5" stroke="#b8b8b8" stroke-width="1.6" stroke-dasharray="7.4 3.1 1.7 3.0"/>
<line x1="625.4" y1="24.9" x2="625.4" y2="345.0" stroke="#a2a2a2" stroke-width="1.4"/>
<line x1="624.6999999999999" y1="25.9" x2="1042.0" y2="25.9" stroke="#c8c8c8" stroke-width="1.9"/>
<line x1="1041.0" y1="25.9" x2="1041.0" y2="345.0" stroke="#c8c8c8" stroke-width="1.9"/>
<line x1="624.6999999999999" y1="344.0" x2="1042.0" y2="344.0" stroke="#c4c4c4" stroke-width="1.9"/>
<line x1="636.4" y1="343.5" x2="636.4" y2="339.0" stroke="#9a9a9a" stroke-width="1.2"/>
<line x1="636.4" y1="26.4" x2="636.4" y2="30.9" stroke="#9a9a9a" stroke-width="1.2"/>
<line x1="694.5" y1="343.5" x2="694.5" y2="339.0" stroke="#9a9a9a" stroke-width="1.2"/>
<line x1="694.5" y1="26.4" x2="694.5" y2="30.9" stroke="#9a9a9a" stroke-width="1.2"/>
<line x1="752.4" y1="343.5" x2="752.4" y2="339.0" stroke="#9a9a9a" stroke-width="1.2"/>
<line x1="752.4" y1="26.4" x2="752.4" y2="30.9" stroke="#9a9a9a" stroke-width="1.2"/>
<line x1="810.0" y1="343.5" x2="810.0" y2="339.0" stroke="#9a9a9a" stroke-width="1.2"/>
<line x1="810.0" y1="26.4" x2="810.0" y2="30.9" stroke="#9a9a9a" stroke-width="1.2"/>
<line x1="867.5" y1="343.5" x2="867.5" y2="339.0" stroke="#9a9a9a" stroke-width="1.2"/>
<line x1="867.5" y1="26.4" x2="867.5" y2="30.9" stroke="#9a9a9a" stroke-width="1.2"/>
<line x1="925.5" y1="343.5" x2="925.5" y2="339.0" stroke="#9a9a9a" stroke-width="1.2"/>
<line x1="925.5" y1="26.4" x2="925.5" y2="30.9" stroke="#9a9a9a" stroke-width="1.2"/>
<line x1="983.6" y1="343.5" x2="983.6" y2="339.0" stroke="#9a9a9a" stroke-width="1.2"/>
<line x1="983.6" y1="26.4" x2="983.6" y2="30.9" stroke="#9a9a9a" stroke-width="1.2"/>
<line x1="625.4" y1="57.5" x2="629.9" y2="57.5" stroke="#9a9a9a" stroke-width="1.2"/>
<line x1="1040.5" y1="57.5" x2="1036.0" y2="57.5" stroke="#9a9a9a" stroke-width="1.2"/>
<line x1="625.4" y1="115.4" x2="629.9" y2="115.4" stroke="#9a9a9a" stroke-width="1.2"/>
<line x1="1040.5" y1="115.4" x2="1036.0" y2="115.4" stroke="#9a9a9a" stroke-width="1.2"/>
<line x1="625.4" y1="173.4" x2="629.9" y2="173.4" stroke="#9a9a9a" stroke-width="1.2"/>
<line x1="1040.5" y1="173.4" x2="1036.0" y2="173.4" stroke="#9a9a9a" stroke-width="1.2"/>
<line x1="625.4" y1="231.3" x2="629.9" y2="231.3" stroke="#9a9a9a" stroke-width="1.2"/>
<line x1="1040.5" y1="231.3" x2="1036.0" y2="231.3" stroke="#9a9a9a" stroke-width="1.2"/>
<line x1="625.4" y1="289.1" x2="629.9" y2="289.1" stroke="#9a9a9a" stroke-width="1.2"/>
<line x1="1040.5" y1="289.1" x2="1036.0" y2="289.1" stroke="#9a9a9a" stroke-width="1.2"/>
<path d="M624.80,190.15 L625.80,190.28 L626.80,190.41 L627.80,190.53 L628.80,190.66 L629.79,190.79 L630.79,190.91 L631.79,191.04 L632.79,191.16 L633.79,191.29 L634.79,191.41 L635.79,191.53 L636.79,191.65 L637.78,191.76 L638.78,191.88 L639.78,191.99 L640.78,192.11 L641.78,192.22 L642.78,192.33 L643.78,192.44 L644.78,192.55 L645.77,192.65 L646.77,192.76 L647.77,192.86 L648.77,192.96 L649.77,193.06 L650.77,193.15 L651.77,193.24 L652.77,193.33 L653.77,193.42 L654.76,193.50 L655.76,193.58 L656.76,193.65 L657.76,193.72 L658.76,193.78 L659.76,193.83 L660.76,193.88 L661.76,193.92 L662.75,193.95 L663.75,193.97 L664.75,193.99 L665.75,194.00 L666.75,194.01 L667.75,194.01 L668.75,194.01 L669.75,194.00 L670.74,194.00 L671.74,193.99 L672.74,193.99 L673.74,193.98 L674.74,193.97 L675.74,193.96 L676.74,193.95 L677.74,193.94 L678.74,193.93 L679.73,193.92 L680.73,193.91 L681.73,193.90 L682.73,193.89 L683.73,193.87 L684.73,193.86 L685.73,193.84 L686.73,193.83 L687.72,193.81 L688.72,193.78 L689.72,193.76 L690.72,193.74 L691.72,193.71 L692.72,193.68 L693.72,193.65 L694.72,193.61 L695.71,193.58 L696.71,193.55 L697.71,193.51 L698.71,193.47 L699.71,193.44 L700.71,193.40 L701.71,193.37 L702.71,193.33 L703.71,193.30 L704.70,193.27 L705.70,193.23 L706.70,193.20 L707.70,193.17 L708.70,193.13 L709.70,193.10 L710.70,193.07 L711.70,193.04 L712.69,193.01 L713.69,192.98 L714.69,192.94 L715.69,192.91 L716.69,192.88 L717.69,192.85 L718.69,192.82 L719.69,192.79 L720.68,192.76 L721.68,192.73 L722.68,192.70 L723.68,192.67 L724.68,192.64 L725.68,192.62 L726.68,192.59 L727.68,192.57 L728.68,192.54 L729.67,192.52 L730.67,192.50 L731.67,192.48 L732.67,192.47 L733.67,192.45 L734.67,192.44 L735.67,192.44 L736.67,192.43 L737.66,192.43 L738.66,192.43 L739.66,192.43 L740.66,192.44 L741.66,192.45 L742.66,192.47 L743.66,192.49 L744.66,192.51 L745.65,192.53 L746.65,192.56 L747.65,192.59 L748.65,192.62 L749.65,192.65 L750.65,192.69 L751.65,192.73 L752.65,192.76 L753.65,192.80 L754.64,192.85 L755.64,192.89 L756.64,192.93 L757.64,192.98 L758.64,193.02 L759.64,193.07 L760.64,193.12 L761.64,193.17 L762.63,193.22 L763.63,193.27 L764.63,193.33 L765.63,193.38 L766.63,193.44 L767.63,193.50 L768.63,193.56 L769.63,193.62 L770.62,193.68 L771.62,193.75 L772.62,193.81 L773.62,193.88 L774.62,193.95 L775.62,194.02 L776.62,194.09 L777.62,194.16 L778.62,194.24 L779.61,194.31 L780.61,194.39 L781.61,194.47 L782.61,194.56 L783.61,194.65 L784.61,194.74 L785.61,194.84 L786.61,194.95 L787.60,195.06 L788.60,195.18 L789.60,195.30 L790.60,195.43 L791.60,195.57 L792.60,195.70 L793.60,195.84 L794.60,195.99 L795.59,196.13 L796.59,196.28 L797.59,196.43 L798.59,196.58 L799.59,196.73 L800.59,196.88 L801.59,197.04 L802.59,197.19 L803.59,197.34 L804.58,197.50 L805.58,197.65 L806.58,197.81 L807.58,197.96 L808.58,198.12 L809.58,198.27 L810.58,198.43 L811.58,198.59 L812.57,198.75 L813.57,198.91 L814.57,199.08 L815.57,199.24 L816.57,199.41 L817.57,199.58 L818.57,199.76 L819.57,199.94 L820.56,200.13 L821.56,200.33 L822.56,200.53 L823.56,200.74 L824.56,200.95 L825.56,201.18 L826.56,201.41 L827.56,201.64 L828.56,201.88 L829.55,202.12 L830.55,202.37 L831.55,202.62 L832.55,202.88 L833.55,203.14 L834.55,203.40 L835.55,203.66 L836.55,203.93 L837.54,204.19 L838.54,204.46 L839.54,204.73 L840.54,205.02 L841.54,205.31 L842.54,205.61 L843.54,205.91 L844.54,206.21 L845.54,206.51 L846.53,206.82 L847.53,207.14 L848.53,207.46 L849.53,207.78 L850.53,208.11 L851.53,208.45 L852.53,208.79 L853.53,209.14 L854.52,209.50 L855.52,209.86 L856.52,210.23 L857.52,210.61 L858.52,211.00 L859.52,211.39 L860.52,211.79 L861.52,212.20 L862.51,212.61 L863.51,213.02 L864.51,213.44 L865.51,213.86 L866.51,214.29 L867.51,214.73 L868.51,215.17 L869.51,215.61 L870.51,216.06 L871.50,216.51 L872.50,216.97 L873.50,217.43 L874.50,217.90 L875.50,218.37 L876.50,218.84 L877.50,219.31 L878.50,219.79 L879.49,220.27 L880.49,220.74 L881.49,221.20 L882.49,221.66 L883.49,222.13 L884.49,222.59 L885.49,223.06 L886.49,223.53 L887.48,224.00 L888.48,224.48 L889.48,224.95 L890.48,225.42 L891.48,225.90 L892.48,226.39 L893.48,226.88 L894.48,227.37 L895.48,227.88 L896.47,228.39 L897.47,228.92 L898.47,229.45 L899.47,229.99 L900.47,230.54 L901.47,231.09 L902.47,231.65 L903.47,232.22 L904.46,232.79 L905.46,233.35 L906.46,233.92 L907.46,234.49 L908.46,235.06 L909.46,235.63 L910.46,236.20 L911.46,236.78 L912.45,237.36 L913.45,237.94 L914.45,238.53 L915.45,239.11 L916.45,239.71 L917.45,240.31 L918.45,240.91 L919.45,241.52 L920.45,242.13 L921.44,242.75 L922.44,243.37 L923.44,244.00 L924.44,244.64 L925.44,245.27 L926.44,245.91 L927.44,246.54 L928.44,247.18 L929.43,247.80 L930.43,248.41 L931.43,249.01 L932.43,249.59 L933.43,250.16 L934.43,250.72 L935.43,251.26 L936.43,251.79 L937.42,252.31 L938.42,252.80 L939.42,253.29 L940.42,253.76 L941.42,254.21 L942.42,254.64 L943.42,255.06 L944.42,255.46 L945.42,255.85 L946.41,256.21 L947.41,256.55 L948.41,256.87 L949.41,257.16 L950.41,257.43 L951.41,257.67 L952.41,257.89 L953.41,258.09 L954.40,258.26 L955.40,258.40 L956.40,258.52 L957.40,258.62 L958.40,258.69 L959.40,258.74 L960.40,258.77 L961.40,258.80 L962.39,258.81 L963.39,258.80 L964.39,258.78 L965.39,258.74 L966.39,258.69 L967.39,258.63 L968.39,258.55 L969.39,258.46 L970.39,258.35 L971.38,258.22 L972.38,258.07 L973.38,257.91 L974.38,257.73 L975.38,257.53 L976.38,257.31 L977.38,257.07 L978.38,256.82 L979.37,256.54 L980.37,256.25 L981.37,255.94 L982.37,255.61 L983.37,255.27 L984.37,254.91 L985.37,254.54 L986.37,254.16 L987.36,253.77 L988.36,253.38 L989.36,252.98 L990.36,252.57 L991.36,252.16 L992.36,251.74 L993.36,251.33 L994.36,250.91 L995.36,250.49 L996.35,250.07 L997.35,249.65 L998.35,249.23 L999.35,248.81 L1000.35,248.38 L1001.35,247.96 L1002.35,247.54 L1003.35,247.12 L1004.34,246.70 L1005.34,246.29 L1006.34,245.89 L1007.34,245.48 L1008.34,245.08 L1009.34,244.69 L1010.34,244.30 L1011.34,243.91 L1012.33,243.53 L1013.33,243.15 L1014.33,242.77 L1015.33,242.40 L1016.33,242.03 L1017.33,241.66 L1018.33,241.29 L1019.33,240.92 L1020.33,240.56 L1021.32,240.19 L1022.32,239.82 L1023.32,239.45 L1024.32,239.07 L1025.32,238.69 L1026.32,238.31 L1027.32,237.93 L1028.32,237.54 L1029.31,237.14 L1030.31,236.74 L1031.31,236.33 L1032.31,235.92 L1033.31,235.50 L1034.31,235.07 L1035.31,234.64 L1036.31,234.21 L1037.30,233.78 L1038.30,233.34 L1039.30,232.90 L1040.30,232.46 L1041.30,232.02" fill="none" stroke="#0072BD" stroke-width="3.0" clip-path="url(#cb)"/>
<path d="M624.80,188.23 L625.80,188.34 L626.80,188.46 L627.80,188.57 L628.80,188.69 L629.79,188.80 L630.79,188.90 L631.79,189.00 L632.79,189.10 L633.79,189.19 L634.79,189.27 L635.79,189.35 L636.79,189.41 L637.78,189.47 L638.78,189.52 L639.78,189.56 L640.78,189.59 L641.78,189.61 L642.78,189.63 L643.78,189.64 L644.78,189.65 L645.77,189.64 L646.77,189.64 L647.77,189.63 L648.77,189.61 L649.77,189.59 L650.77,189.56 L651.77,189.53 L652.77,189.50 L653.77,189.46 L654.76,189.42 L655.76,189.38 L656.76,189.33 L657.76,189.28 L658.76,189.23 L659.76,189.17 L660.76,189.11 L661.76,189.05 L662.75,188.99 L663.75,188.92 L664.75,188.85 L665.75,188.79 L666.75,188.72 L667.75,188.65 L668.75,188.57 L669.75,188.50 L670.74,188.43 L671.74,188.36 L672.74,188.28 L673.74,188.21 L674.74,188.14 L675.74,188.07 L676.74,188.00 L677.74,187.93 L678.74,187.87 L679.73,187.80 L680.73,187.74 L681.73,187.68 L682.73,187.62 L683.73,187.57 L684.73,187.51 L685.73,187.46 L686.73,187.41 L687.72,187.36 L688.72,187.32 L689.72,187.27 L690.72,187.22 L691.72,187.18 L692.72,187.13 L693.72,187.08 L694.72,187.03 L695.71,186.98 L696.71,186.93 L697.71,186.88 L698.71,186.82 L699.71,186.77 L700.71,186.72 L701.71,186.66 L702.71,186.61 L703.71,186.56 L704.70,186.50 L705.70,186.45 L706.70,186.40 L707.70,186.35 L708.70,186.30 L709.70,186.25 L710.70,186.20 L711.70,186.16 L712.69,186.12 L713.69,186.08 L714.69,186.04 L715.69,186.01 L716.69,185.98 L717.69,185.96 L718.69,185.94 L719.69,185.92 L720.68,185.90 L721.68,185.89 L722.68,185.88 L723.68,185.87 L724.68,185.87 L725.68,185.86 L726.68,185.86 L727.68,185.85 L728.68,185.85 L729.67,185.84 L730.67,185.84 L731.67,185.83 L732.67,185.83 L733.67,185.82 L734.67,185.81 L735.67,185.81 L736.67,185.80 L737.66,185.80 L738.66,185.79 L739.66,185.79 L740.66,185.78 L741.66,185.78 L742.66,185.78 L743.66,185.78 L744.66,185.78 L745.65,185.78 L746.65,185.78 L747.65,185.79 L748.65,185.79 L749.65,185.80 L750.65,185.81 L751.65,185.83 L752.65,185.85 L753.65,185.87 L754.64,185.89 L755.64,185.91 L756.64,185.94 L757.64,185.97 L758.64,186.01 L759.64,186.05 L760.64,186.09 L761.64,186.13 L762.63,186.18 L763.63,186.23 L764.63,186.28 L765.63,186.33 L766.63,186.39 L767.63,186.45 L768.63,186.52 L769.63,186.59 L770.62,186.66 L771.62,186.74 L772.62,186.81 L773.62,186.90 L774.62,186.98 L775.62,187.07 L776.62,187.16 L777.62,187.26 L778.62,187.36 L779.61,187.46 L780.61,187.56 L781.61,187.66 L782.61,187.77 L783.61,187.88 L784.61,187.98 L785.61,188.09 L786.61,188.20 L787.60,188.31 L788.60,188.43 L789.60,188.54 L790.60,188.65 L791.60,188.77 L792.60,188.89 L793.60,189.00 L794.60,189.12 L795.59,189.25 L796.59,189.37 L797.59,189.50 L798.59,189.63 L799.59,189.76 L800.59,189.90 L801.59,190.03 L802.59,190.18 L803.59,190.32 L804.58,190.47 L805.58,190.62 L806.58,190.78 L807.58,190.94 L808.58,191.11 L809.58,191.28 L810.58,191.45 L811.58,191.64 L812.57,191.82 L813.57,192.01 L814.57,192.21 L815.57,192.42 L816.57,192.63 L817.57,192.86 L818.57,193.08 L819.57,193.32 L820.56,193.57 L821.56,193.81 L822.56,194.07 L823.56,194.32 L824.56,194.58 L825.56,194.84 L826.56,195.10 L827.56,195.36 L828.56,195.61 L829.55,195.87 L830.55,196.11 L831.55,196.35 L832.55,196.59 L833.55,196.82 L834.55,197.05 L835.55,197.28 L836.55,197.51 L837.54,197.75 L838.54,197.99 L839.54,198.25 L840.54,198.51 L841.54,198.79 L842.54,199.09 L843.54,199.40 L844.54,199.72 L845.54,200.06 L846.53,200.40 L847.53,200.75 L848.53,201.11 L849.53,201.47 L850.53,201.83 L851.53,202.19 L852.53,202.55 L853.53,202.90 L854.52,203.25 L855.52,203.59 L856.52,203.93 L857.52,204.27 L858.52,204.60 L859.52,204.94 L860.52,205.29 L861.52,205.63 L862.51,205.99 L863.51,206.35 L864.51,206.73 L865.51,207.11 L866.51,207.51 L867.51,207.91 L868.51,208.31 L869.51,208.72 L870.51,209.14 L871.50,209.56 L872.50,209.98 L873.50,210.40 L874.50,210.81 L875.50,211.23 L876.50,211.64 L877.50,212.06 L878.50,212.48 L879.49,212.90 L880.49,213.34 L881.49,213.78 L882.49,214.23 L883.49,214.70 L884.49,215.18 L885.49,215.68 L886.49,216.19 L887.48,216.72 L888.48,217.27 L889.48,217.82 L890.48,218.38 L891.48,218.95 L892.48,219.52 L893.48,220.09 L894.48,220.66 L895.48,221.22 L896.47,221.78 L897.47,222.34 L898.47,222.90 L899.47,223.45 L900.47,224.01 L901.47,224.58 L902.47,225.15 L903.47,225.73 L904.46,226.32 L905.46,226.93 L906.46,227.56 L907.46,228.20 L908.46,228.85 L909.46,229.51 L910.46,230.17 L911.46,230.85 L912.45,231.53 L913.45,232.21 L914.45,232.89 L915.45,233.58 L916.45,234.26 L917.45,234.95 L918.45,235.63 L919.45,236.33 L920.45,237.03 L921.44,237.74 L922.44,238.46 L923.44,239.20 L924.44,239.95 L925.44,240.71 L926.44,241.49 L927.44,242.27 L928.44,243.06 L929.43,243.85 L930.43,244.64 L931.43,245.43 L932.43,246.20 L933.43,246.96 L934.43,247.71 L935.43,248.45 L936.43,249.16 L937.42,249.87 L938.42,250.57 L939.42,251.25 L940.42,251.93 L941.42,252.61 L942.42,253.28 L943.42,253.96 L944.42,254.63 L945.42,255.31 L946.41,255.98 L947.41,256.63 L948.41,257.28 L949.41,257.90 L950.41,258.49 L951.41,259.06 L952.41,259.58 L953.41,260.07 L954.40,260.51 L955.40,260.91 L956.40,261.27 L957.40,261.58 L958.40,261.86 L959.40,262.10 L960.40,262.30 L961.40,262.46 L962.39,262.59 L963.39,262.68 L964.39,262.74 L965.39,262.77 L966.39,262.77 L967.39,262.75 L968.39,262.70 L969.39,262.62 L970.39,262.53 L971.38,262.41 L972.38,262.28 L973.38,262.13 L974.38,261.97 L975.38,261.80 L976.38,261.61 L977.38,261.42 L978.38,261.21 L979.37,260.99 L980.37,260.76 L981.37,260.51 L982.37,260.24 L983.37,259.96 L984.37,259.66 L985.37,259.34 L986.37,259.00 L987.36,258.64 L988.36,258.27 L989.36,257.87 L990.36,257.47 L991.36,257.06 L992.36,256.63 L993.36,256.21 L994.36,255.78 L995.36,255.35 L996.35,254.92 L997.35,254.49 L998.35,254.07 L999.35,253.66 L1000.35,253.25 L1001.35,252.85 L1002.35,252.45 L1003.35,252.06 L1004.34,251.67 L1005.34,251.28 L1006.34,250.89 L1007.34,250.50 L1008.34,250.10 L1009.34,249.70 L1010.34,249.30 L1011.34,248.90 L1012.33,248.50 L1013.33,248.10 L1014.33,247.69 L1015.33,247.29 L1016.33,246.88 L1017.33,246.47 L1018.33,246.07 L1019.33,245.67 L1020.33,245.26 L1021.32,244.85 L1022.32,244.45 L1023.32,244.03 L1024.32,243.62 L1025.32,243.19 L1026.32,242.76 L1027.32,242.33 L1028.32,241.88 L1029.31,241.42 L1030.31,240.96 L1031.31,240.48 L1032.31,240.00 L1033.31,239.51 L1034.31,239.02 L1035.31,238.52 L1036.31,238.02 L1037.30,237.51 L1038.30,237.00 L1039.30,236.49 L1040.30,235.98 L1041.30,235.48" fill="none" stroke="#D95319" stroke-width="3.0" stroke-dasharray="11.2 11.9" clip-path="url(#cb)"/>
<path d="M624.80,190.15 L625.80,190.28 L626.80,190.41 L627.80,190.53 L628.80,190.66 L629.79,190.79 L630.79,190.91 L631.79,191.04 L632.79,191.16 L633.79,191.29 L634.79,191.41 L635.79,191.53 L636.79,191.65 L637.78,191.76 L638.78,191.88 L639.78,191.99 L640.78,192.11 L641.78,192.22 L642.78,192.33 L643.78,192.44 L644.78,192.55 L645.77,192.65 L646.77,192.76 L647.77,192.86 L648.77,192.96 L649.77,193.06 L650.77,193.15 L651.77,193.24 L652.77,193.33 L653.77,193.42 L654.76,193.50 L655.76,193.58 L656.76,193.65 L657.76,193.72 L658.76,193.78 L659.76,193.83 L660.76,193.88 L661.76,193.92 L662.75,193.95 L663.75,193.97 L664.75,193.99 L665.75,194.00 L666.75,194.01 L667.75,194.01 L668.75,194.01 L669.75,194.00 L670.74,194.00 L671.74,193.99 L672.74,193.99 L673.74,193.98 L674.74,193.97 L675.74,193.96 L676.74,193.95 L677.74,193.94 L678.74,193.93 L679.73,193.92 L680.73,193.91 L681.73,193.90 L682.73,193.89 L683.73,193.87 L684.73,193.86 L685.73,193.84 L686.73,193.83 L687.72,193.81 L688.72,193.78 L689.72,193.76 L690.72,193.74 L691.72,193.71 L692.72,193.68 L693.72,193.65 L694.72,193.61 L695.71,193.58 L696.71,193.55 L697.71,193.51 L698.71,193.47 L699.71,193.44 L700.71,193.40 L701.71,193.37 L702.71,193.33 L703.71,193.30 L704.70,193.27 L705.70,193.23 L706.70,193.20 L707.70,193.17 L708.70,193.13 L709.70,193.10 L710.70,193.07 L711.70,193.04 L712.69,193.01 L713.69,192.98 L714.69,192.94 L715.69,192.91 L716.69,192.88 L717.69,192.85 L718.69,192.82 L719.69,192.79 L720.68,192.76 L721.68,192.73 L722.68,192.70 L723.68,192.67 L724.68,192.64 L725.68,192.62 L726.68,192.59 L727.68,192.57 L728.68,192.54 L729.67,192.52 L730.67,192.50 L731.67,192.48 L732.67,192.47 L733.67,192.45 L734.67,192.44 L735.67,192.44 L736.67,192.43 L737.66,192.43 L738.66,192.43 L739.66,192.43 L740.66,192.44 L741.66,192.45 L742.66,192.47 L743.66,192.49 L744.66,192.51 L745.65,192.53 L746.65,192.56 L747.65,192.59 L748.65,192.62 L749.65,192.65 L750.65,192.69 L751.65,192.73 L752.65,192.76 L753.65,192.80 L754.64,192.85 L755.64,192.89 L756.64,192.93 L757.64,192.98 L758.64,193.02 L759.64,193.07 L760.64,193.12 L761.64,193.17 L762.63,193.22 L763.63,193.27 L764.63,193.33 L765.63,193.38 L766.63,193.44 L767.63,193.50 L768.63,193.56 L769.63,193.62 L770.62,193.68 L771.62,193.75 L772.62,193.81 L773.62,193.88 L774.62,193.95 L775.62,194.02 L776.62,194.09 L777.62,194.16 L778.62,194.24 L779.61,194.31 L780.61,194.39 L781.61,194.47 L782.61,194.56 L783.61,194.65 L784.61,194.74 L785.61,194.84 L786.61,194.95 L787.60,195.06 L788.60,195.18 L789.60,195.30 L790.60,195.43 L791.60,195.57 L792.60,195.70 L793.60,195.84 L794.60,195.99 L795.59,196.13 L796.59,196.28 L797.59,196.43 L798.59,196.58 L799.59,196.73 L800.59,196.88 L801.59,197.04 L802.59,197.19 L803.59,197.34 L804.58,197.50 L805.58,197.65 L806.58,197.81 L807.58,197.96 L808.58,198.12 L809.58,198.27 L810.58,198.43 L811.58,198.59 L812.57,198.75 L813.57,198.91 L814.57,199.08 L815.57,199.24 L816.57,199.41 L817.57,199.58 L818.57,199.76 L819.57,199.94 L820.56,200.13 L821.56,200.33 L822.56,200.53 L823.56,200.74 L824.56,200.95 L825.56,201.18 L826.56,201.41 L827.56,201.64 L828.56,201.88 L829.55,202.12 L830.55,202.37 L831.55,202.62 L832.55,202.88 L833.55,203.14 L834.55,203.40 L835.55,203.66 L836.55,203.93 L837.54,204.19 L838.54,204.46 L839.54,204.73 L840.54,205.02 L841.54,205.31 L842.54,205.61 L843.54,205.91 L844.54,206.21 L845.54,206.51 L846.53,206.82 L847.53,207.14 L848.53,207.46 L849.53,207.78 L850.53,208.11 L851.53,208.45 L852.53,208.79 L853.53,209.14 L854.52,209.50 L855.52,209.86 L856.52,210.23 L857.52,210.61 L858.52,211.00 L859.52,211.39 L860.52,211.79 L861.52,212.20 L862.51,212.61 L863.51,213.02 L864.51,213.44 L865.51,213.86 L866.51,214.29 L867.51,214.73 L868.51,215.17 L869.51,215.61 L870.51,216.06 L871.50,216.51 L872.50,216.97 L873.50,217.43 L874.50,217.90 L875.50,218.37 L876.50,218.84 L877.50,219.31 L878.50,219.79 L879.49,220.27 L880.49,220.74 L881.49,221.20 L882.49,221.66 L883.49,222.13 L884.49,222.59 L885.49,223.06 L886.49,223.53 L887.48,224.00 L888.48,224.48 L889.48,224.95 L890.48,225.42 L891.48,225.90 L892.48,226.39 L893.48,226.88 L894.48,227.37 L895.48,227.88 L896.47,228.39 L897.47,228.92 L898.47,229.45 L899.47,229.99 L900.47,230.54 L901.47,231.09 L902.47,231.65 L903.47,232.22 L904.46,232.79 L905.46,233.35 L906.46,233.92 L907.46,234.49 L908.46,235.06 L909.46,235.63 L910.46,236.20 L911.46,236.78 L912.45,237.36 L913.45,237.94 L914.45,238.53 L915.45,239.11 L916.45,239.71 L917.45,240.31 L918.45,240.91 L919.45,241.52 L920.45,242.13 L921.44,242.75 L922.44,243.37 L923.44,244.00 L924.44,244.64 L925.44,245.27 L926.44,245.91 L927.44,246.54 L928.44,247.18 L929.43,247.80 L930.43,248.41 L931.43,249.01 L932.43,249.59 L933.43,250.16 L934.43,250.72 L935.43,251.26 L936.43,251.79 L937.42,252.31 L938.42,252.80 L939.42,253.29 L940.42,253.76 L941.42,254.21 L942.42,254.64 L943.42,255.06 L944.42,255.46 L945.42,255.85 L946.41,256.21 L947.41,256.55 L948.41,256.87 L949.41,257.16 L950.41,257.43 L951.41,257.67 L952.41,257.89 L953.41,258.09 L954.40,258.26 L955.40,258.40 L956.40,258.52 L957.40,258.62 L958.40,258.69 L959.40,258.74 L960.40,258.77 L961.40,258.80 L962.39,258.81 L963.39,258.80 L964.39,258.78 L965.39,258.74 L966.39,258.69 L967.39,258.63 L968.39,258.55 L969.39,258.46 L970.39,258.35 L971.38,258.22 L972.38,258.07 L973.38,257.91 L974.38,257.73 L975.38,257.53 L976.38,257.31 L977.38,257.07 L978.38,256.82 L979.37,256.54 L980.37,256.25 L981.37,255.94 L982.37,255.61 L983.37,255.27 L984.37,254.91 L985.37,254.54 L986.37,254.16 L987.36,253.77 L988.36,253.38 L989.36,252.98 L990.36,252.57 L991.36,252.16 L992.36,251.74 L993.36,251.33 L994.36,250.91 L995.36,250.49 L996.35,250.07 L997.35,249.65 L998.35,249.23 L999.35,248.81 L1000.35,248.38 L1001.35,247.96 L1002.35,247.54 L1003.35,247.12 L1004.34,246.70 L1005.34,246.29 L1006.34,245.89 L1007.34,245.48 L1008.34,245.08 L1009.34,244.69 L1010.34,244.30 L1011.34,243.91 L1012.33,243.53 L1013.33,243.15 L1014.33,242.77 L1015.33,242.40 L1016.33,242.03 L1017.33,241.66 L1018.33,241.29 L1019.33,240.92 L1020.33,240.56 L1021.32,240.19 L1022.32,239.82 L1023.32,239.45 L1024.32,239.07 L1025.32,238.69 L1026.32,238.31 L1027.32,237.93 L1028.32,237.54 L1029.31,237.14 L1030.31,236.74 L1031.31,236.33 L1032.31,235.92 L1033.31,235.50 L1034.31,235.07 L1035.31,234.64 L1036.31,234.21 L1037.30,233.78 L1038.30,233.34 L1039.30,232.90 L1040.30,232.46 L1041.30,232.02" fill="none" stroke="#EDB120" stroke-width="3.0" stroke-dasharray="2.7 3.0" clip-path="url(#cb)"/>
<path d="M624.80,187.17 L625.80,187.31 L626.80,187.45 L627.80,187.59 L628.80,187.73 L629.79,187.86 L630.79,188.00 L631.79,188.13 L632.79,188.26 L633.79,188.39 L634.79,188.52 L635.79,188.64 L636.79,188.76 L637.78,188.87 L638.78,188.98 L639.78,189.07 L640.78,189.16 L641.78,189.23 L642.78,189.29 L643.78,189.35 L644.78,189.39 L645.77,189.43 L646.77,189.46 L647.77,189.49 L648.77,189.51 L649.77,189.53 L650.77,189.55 L651.77,189.56 L652.77,189.57 L653.77,189.58 L654.76,189.58 L655.76,189.58 L656.76,189.58 L657.76,189.57 L658.76,189.56 L659.76,189.54 L660.76,189.53 L661.76,189.51 L662.75,189.48 L663.75,189.46 L664.75,189.43 L665.75,189.40 L666.75,189.37 L667.75,189.34 L668.75,189.30 L669.75,189.26 L670.74,189.21 L671.74,189.16 L672.74,189.11 L673.74,189.06 L674.74,189.01 L675.74,188.95 L676.74,188.90 L677.74,188.84 L678.74,188.79 L679.73,188.73 L680.73,188.68 L681.73,188.63 L682.73,188.58 L683.73,188.53 L684.73,188.48 L685.73,188.43 L686.73,188.38 L687.72,188.33 L688.72,188.28 L689.72,188.22 L690.72,188.16 L691.72,188.09 L692.72,188.03 L693.72,187.95 L694.72,187.88 L695.71,187.81 L696.71,187.73 L697.71,187.67 L698.71,187.60 L699.71,187.54 L700.71,187.49 L701.71,187.44 L702.71,187.40 L703.71,187.36 L704.70,187.33 L705.70,187.30 L706.70,187.27 L707.70,187.24 L708.70,187.21 L709.70,187.18 L710.70,187.15 L711.70,187.11 L712.69,187.07 L713.69,187.03 L714.69,186.98 L715.69,186.93 L716.69,186.89 L717.69,186.84 L718.69,186.80 L719.69,186.77 L720.68,186.73 L721.68,186.71 L722.68,186.68 L723.68,186.66 L724.68,186.64 L725.68,186.63 L726.68,186.61 L727.68,186.60 L728.68,186.59 L729.67,186.59 L730.67,186.58 L731.67,186.58 L732.67,186.58 L733.67,186.58 L734.67,186.58 L735.67,186.58 L736.67,186.58 L737.66,186.59 L738.66,186.59 L739.66,186.60 L740.66,186.61 L741.66,186.62 L742.66,186.63 L743.66,186.65 L744.66,186.67 L745.65,186.69 L746.65,186.71 L747.65,186.74 L748.65,186.77 L749.65,186.80 L750.65,186.84 L751.65,186.88 L752.65,186.92 L753.65,186.96 L754.64,187.00 L755.64,187.04 L756.64,187.07 L757.64,187.10 L758.64,187.12 L759.64,187.15 L760.64,187.17 L761.64,187.19 L762.63,187.22 L763.63,187.25 L764.63,187.29 L765.63,187.33 L766.63,187.38 L767.63,187.44 L768.63,187.50 L769.63,187.57 L770.62,187.64 L771.62,187.71 L772.62,187.80 L773.62,187.88 L774.62,187.97 L775.62,188.06 L776.62,188.16 L777.62,188.26 L778.62,188.35 L779.61,188.45 L780.61,188.55 L781.61,188.65 L782.61,188.76 L783.61,188.87 L784.61,188.99 L785.61,189.11 L786.61,189.24 L787.60,189.36 L788.60,189.50 L789.60,189.63 L790.60,189.77 L791.60,189.91 L792.60,190.05 L793.60,190.20 L794.60,190.35 L795.59,190.49 L796.59,190.64 L797.59,190.79 L798.59,190.94 L799.59,191.08 L800.59,191.22 L801.59,191.34 L802.59,191.46 L803.59,191.58 L804.58,191.70 L805.58,191.82 L806.58,191.95 L807.58,192.07 L808.58,192.21 L809.58,192.35 L810.58,192.51 L811.58,192.67 L812.57,192.84 L813.57,193.02 L814.57,193.21 L815.57,193.41 L816.57,193.63 L817.57,193.85 L818.57,194.09 L819.57,194.33 L820.56,194.59 L821.56,194.85 L822.56,195.11 L823.56,195.37 L824.56,195.62 L825.56,195.87 L826.56,196.11 L827.56,196.36 L828.56,196.61 L829.55,196.86 L830.55,197.12 L831.55,197.37 L832.55,197.62 L833.55,197.88 L834.55,198.13 L835.55,198.39 L836.55,198.65 L837.54,198.91 L838.54,199.18 L839.54,199.46 L840.54,199.74 L841.54,200.03 L842.54,200.34 L843.54,200.65 L844.54,200.97 L845.54,201.28 L846.53,201.59 L847.53,201.90 L848.53,202.21 L849.53,202.53 L850.53,202.85 L851.53,203.19 L852.53,203.53 L853.53,203.88 L854.52,204.23 L855.52,204.57 L856.52,204.92 L857.52,205.28 L858.52,205.63 L859.52,205.99 L860.52,206.36 L861.52,206.73 L862.51,207.11 L863.51,207.50 L864.51,207.89 L865.51,208.30 L866.51,208.70 L867.51,209.11 L868.51,209.52 L869.51,209.92 L870.51,210.33 L871.50,210.74 L872.50,211.15 L873.50,211.57 L874.50,211.99 L875.50,212.42 L876.50,212.85 L877.50,213.29 L878.50,213.73 L879.49,214.19 L880.49,214.66 L881.49,215.13 L882.49,215.62 L883.49,216.13 L884.49,216.65 L885.49,217.18 L886.49,217.73 L887.48,218.28 L888.48,218.84 L889.48,219.39 L890.48,219.93 L891.48,220.47 L892.48,221.01 L893.48,221.54 L894.48,222.07 L895.48,222.59 L896.47,223.12 L897.47,223.64 L898.47,224.17 L899.47,224.70 L900.47,225.24 L901.47,225.79 L902.47,226.35 L903.47,226.92 L904.46,227.50 L905.46,228.11 L906.46,228.72 L907.46,229.35 L908.46,229.99 L909.46,230.64 L910.46,231.29 L911.46,231.95 L912.45,232.63 L913.45,233.31 L914.45,233.99 L915.45,234.68 L916.45,235.37 L917.45,236.06 L918.45,236.75 L919.45,237.44 L920.45,238.13 L921.44,238.82 L922.44,239.51 L923.44,240.19 L924.44,240.88 L925.44,241.56 L926.44,242.22 L927.44,242.88 L928.44,243.51 L929.43,244.14 L930.43,244.75 L931.43,245.35 L932.43,245.95 L933.43,246.54 L934.43,247.12 L935.43,247.69 L936.43,248.25 L937.42,248.80 L938.42,249.35 L939.42,249.88 L940.42,250.41 L941.42,250.93 L942.42,251.44 L943.42,251.95 L944.42,252.45 L945.42,252.95 L946.41,253.44 L947.41,253.91 L948.41,254.36 L949.41,254.80 L950.41,255.22 L951.41,255.61 L952.41,255.99 L953.41,256.34 L954.40,256.66 L955.40,256.96 L956.40,257.23 L957.40,257.47 L958.40,257.68 L959.40,257.87 L960.40,258.03 L961.40,258.17 L962.39,258.29 L963.39,258.37 L964.39,258.44 L965.39,258.48 L966.39,258.50 L967.39,258.49 L968.39,258.46 L969.39,258.41 L970.39,258.33 L971.38,258.22 L972.38,258.09 L973.38,257.94 L974.38,257.77 L975.38,257.57 L976.38,257.36 L977.38,257.12 L978.38,256.86 L979.37,256.58 L980.37,256.28 L981.37,255.97 L982.37,255.64 L983.37,255.29 L984.37,254.93 L985.37,254.56 L986.37,254.18 L987.36,253.78 L988.36,253.38 L989.36,252.98 L990.36,252.57 L991.36,252.16 L992.36,251.75 L993.36,251.33 L994.36,250.91 L995.36,250.49 L996.35,250.07 L997.35,249.65 L998.35,249.23 L999.35,248.81 L1000.35,248.38 L1001.35,247.96 L1002.35,247.54 L1003.35,247.12 L1004.34,246.70 L1005.34,246.29 L1006.34,245.88 L1007.34,245.48 L1008.34,245.08 L1009.34,244.69 L1010.34,244.29 L1011.34,243.91 L1012.33,243.52 L1013.33,243.14 L1014.33,242.77 L1015.33,242.39 L1016.33,242.02 L1017.33,241.65 L1018.33,241.28 L1019.33,240.91 L1020.33,240.55 L1021.32,240.18 L1022.32,239.81 L1023.32,239.44 L1024.32,239.06 L1025.32,238.69 L1026.32,238.31 L1027.32,237.93 L1028.32,237.54 L1029.31,237.16 L1030.31,236.76 L1031.31,236.37 L1032.31,235.96 L1033.31,235.56 L1034.31,235.15 L1035.31,234.73 L1036.31,234.32 L1037.30,233.90 L1038.30,233.48 L1039.30,233.06 L1040.30,232.64 L1041.30,232.21" fill="none" stroke="#7E2F8E" stroke-width="3.0" stroke-dasharray="11.2 3.1 5.6 3.2" clip-path="url(#cb)"/>
<text x="636.4" y="367.3" text-anchor="middle" font-size="18" fill="#1a1a1a" font-family="'Liberation Serif', serif" font-weight="bold" stroke="#fff" stroke-width="0.22">335</text>
<text x="694.5" y="367.3" text-anchor="middle" font-size="18" fill="#1a1a1a" font-family="'Liberation Serif', serif" font-weight="bold" stroke="#fff" stroke-width="0.22">340</text>
<text x="752.4" y="367.3" text-anchor="middle" font-size="18" fill="#1a1a1a" font-family="'Liberation Serif', serif" font-weight="bold" stroke="#fff" stroke-width="0.22">345</text>
<text x="810.0" y="367.3" text-anchor="middle" font-size="18" fill="#1a1a1a" font-family="'Liberation Serif', serif" font-weight="bold" stroke="#fff" stroke-width="0.22">350</text>
<text x="867.5" y="367.3" text-anchor="middle" font-size="18" fill="#1a1a1a" font-family="'Liberation Serif', serif" font-weight="bold" stroke="#fff" stroke-width="0.22">355</text>
<text x="925.5" y="367.3" text-anchor="middle" font-size="18" fill="#1a1a1a" font-family="'Liberation Serif', serif" font-weight="bold" stroke="#fff" stroke-width="0.22">360</text>
<text x="983.6" y="367.3" text-anchor="middle" font-size="18" fill="#1a1a1a" font-family="'Liberation Serif', serif" font-weight="bold" stroke="#fff" stroke-width="0.22">365</text>
<text x="1041.0" y="367.3" text-anchor="middle" font-size="18" fill="#1a1a1a" font-family="'Liberation Serif', serif" font-weight="bold" stroke="#fff" stroke-width="0.22">370</text>
<text x="618.6" y="64.5" text-anchor="end" font-size="18" fill="#1a1a1a" font-family="'Liberation Serif', serif" font-weight="bold" stroke="#fff" stroke-width="0.22">0</text>
<text x="620.5" y="122.4" text-anchor="end" font-size="18" fill="#1a1a1a" font-family="'Liberation Serif', serif" font-weight="bold" stroke="#fff" stroke-width="0.22"><tspan stroke="none">&#8722;</tspan>10</text>
<text x="620.5" y="180.4" text-anchor="end" font-size="18" fill="#1a1a1a" font-family="'Liberation Serif', serif" font-weight="bold" stroke="#fff" stroke-width="0.22"><tspan stroke="none">&#8722;</tspan>20</text>
<text x="620.5" y="238.3" text-anchor="end" font-size="18" fill="#1a1a1a" font-family="'Liberation Serif', serif" font-weight="bold" stroke="#fff" stroke-width="0.22"><tspan stroke="none">&#8722;</tspan>30</text>
<text x="620.5" y="296.1" text-anchor="end" font-size="18" fill="#1a1a1a" font-family="'Liberation Serif', serif" font-weight="bold" stroke="#fff" stroke-width="0.22"><tspan stroke="none">&#8722;</tspan>40</text>
<text transform="translate(832.6,393.1) scale(1.015,1)" text-anchor="middle" font-size="22.7" fill="#1a1a1a" font-family="'Liberation Serif', serif" font-weight="bold" stroke="#fff" stroke-width="0.22">ground range (km)</text>
<text transform="translate(586.4,185.1) rotate(-90) scale(1.012,1)" x="0" y="0" text-anchor="middle" font-size="22.7" fill="#1a1a1a" font-family="'Liberation Serif', serif" font-weight="bold" stroke="#fff" stroke-width="0.22">RASR(dB)</text>
<rect x="952.7" y="36.6" width="77.79999999999995" height="88.80000000000001" fill="#fff" stroke="#828282" stroke-width="1.05"/>
<line x1="956.8" y1="49.0" x2="995" y2="49.0" stroke="#0072BD" stroke-width="3.0"/>
<text transform="translate(998.3,55.9) scale(0.95,1)" font-size="17.5" fill="#000" font-family="'Liberation Serif', serif" font-weight="bold">HV</text>
<line x1="956.8" y1="70.4" x2="995" y2="70.4" stroke="#D95319" stroke-width="3.0" stroke-dasharray="11.2 11.9"/>
<text transform="translate(998.3,77.0) scale(0.95,1)" font-size="17.5" fill="#000" font-family="'Liberation Serif', serif" font-weight="bold">HH</text>
<line x1="956.8" y1="91.8" x2="995" y2="91.8" stroke="#EDB120" stroke-width="3.0" stroke-dasharray="2.7 3.0"/>
<text transform="translate(998.3,98.2) scale(0.975,1)" font-size="17.5" fill="#000" font-family="'Liberation Serif', serif" font-weight="bold">VH</text>
<line x1="956.8" y1="113.3" x2="995" y2="113.3" stroke="#7E2F8E" stroke-width="3.0" stroke-dasharray="11.2 3.1 5.6 3.2"/>
<text transform="translate(998.3,119.4) scale(0.99,1)" font-size="17.5" fill="#000" font-family="'Liberation Serif', serif" font-weight="bold">VV</text>
<text transform="translate(272.3,436.4) scale(0.955,1)" text-anchor="middle" font-family="'Liberation Serif', serif" font-size="27" fill="#000"><tspan stroke="#fff" stroke-width="0.5">(</tspan><tspan font-weight="bold">a</tspan><tspan stroke="#fff" stroke-width="0.5">)</tspan></text>
<text transform="translate(822.9,436.6)" text-anchor="middle" font-family="'Liberation Serif', serif" font-size="27" fill="#000"><tspan stroke="#fff" stroke-width="0.5">(</tspan><tspan font-weight="bold">b</tspan><tspan stroke="#fff" stroke-width="0.5">)</tspan></text>
</svg>
</body></html>
